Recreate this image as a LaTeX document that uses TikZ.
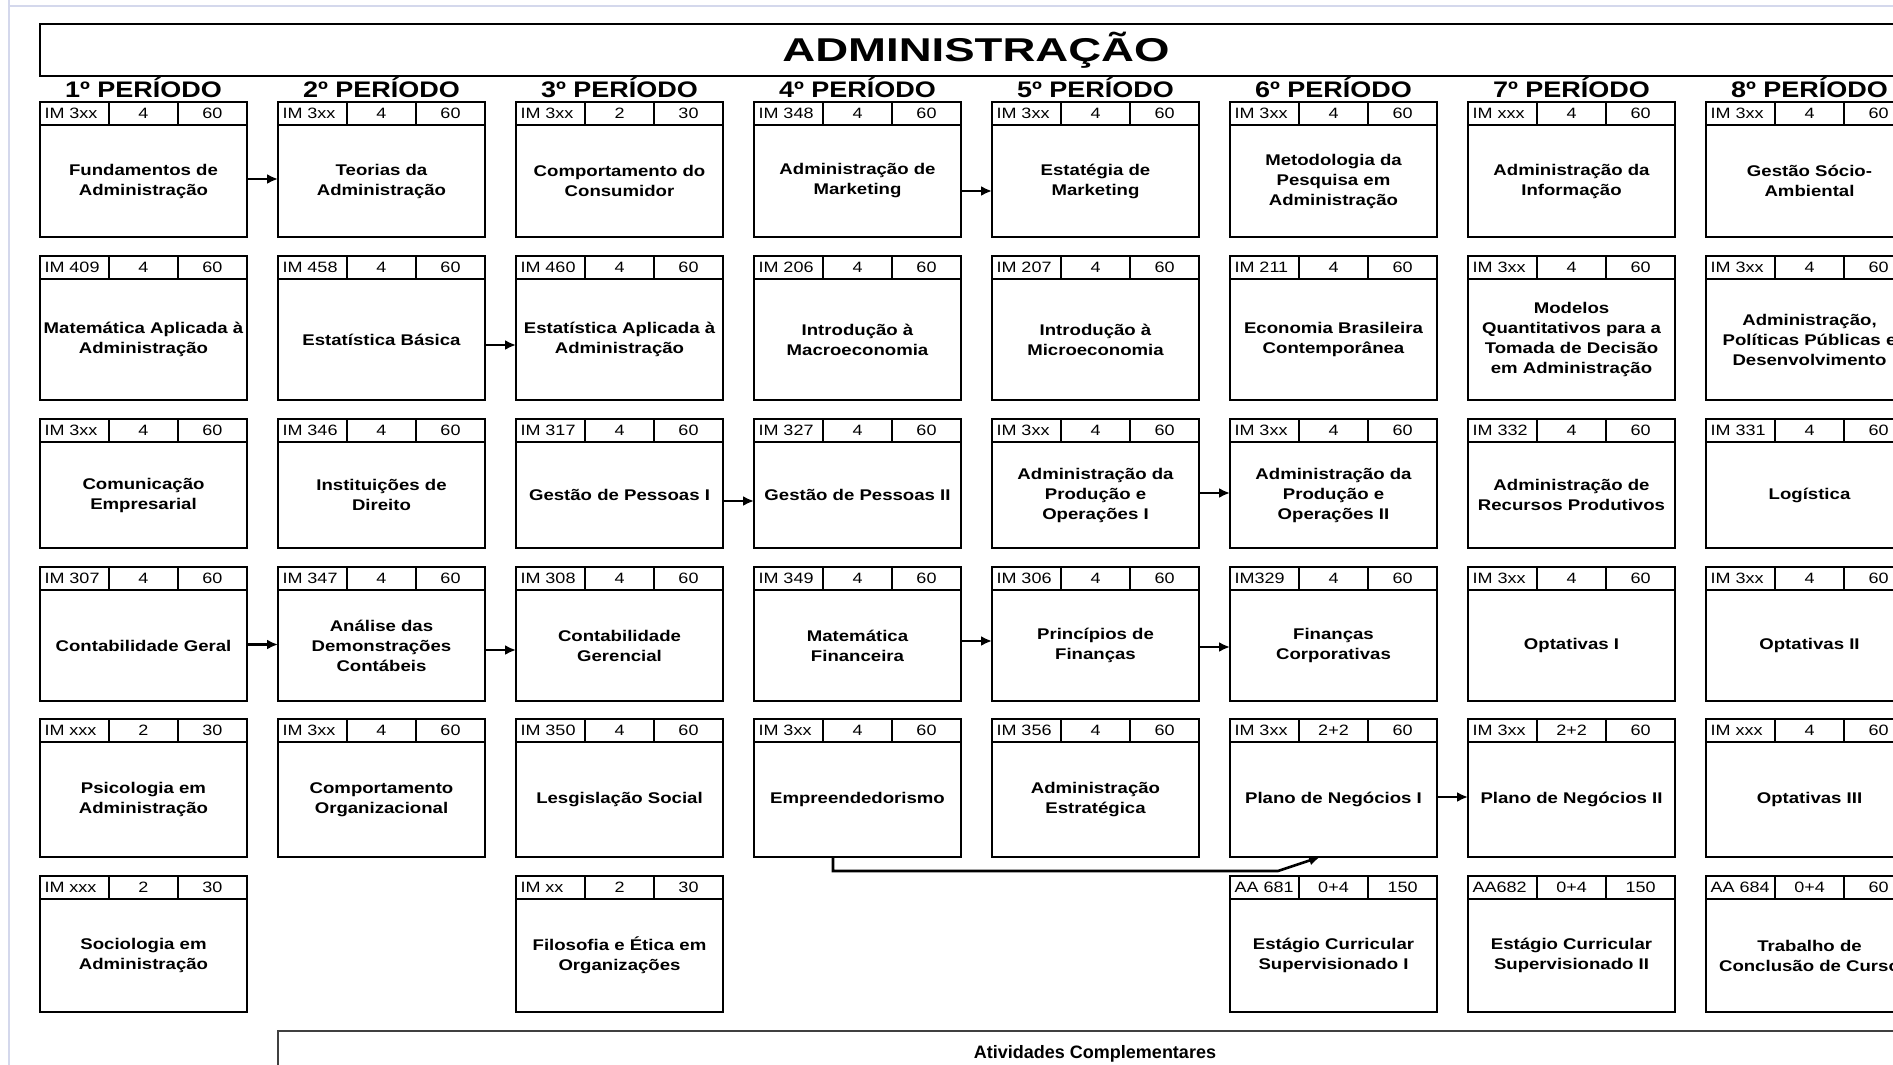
\documentclass[tikz,border=0pt]{standalone}
\usepackage{fontspec}
\setmainfont{Liberation Sans}
\newfontfamily\widefont[FakeStretch=1.2]{Liberation Sans}
\newfontfamily\titlefont[FakeStretch=1.38]{Liberation Sans}
\usepackage{tikz}
\usepackage{xcolor}
\definecolor{pageline}{RGB}{212,216,236}
\usetikzlibrary{arrows.meta,positioning}

\tikzset{
	cbox/.style={draw,line width=2.6pt,anchor=north west,minimum width=207pt,inner sep=0pt,outer sep=0pt},
	ccell/.style={draw,line width=1.6pt,anchor=north west,minimum width=69pt,minimum height=23pt,inner sep=0pt,outer sep=0pt,font=\widefont\fontsize{15}{15}\selectfont},
	ccode/.style={ccell,text width=60pt,inner xsep=4.5pt,align=left},
	ctext/.style={align=center,inner sep=0pt,font=\widefont\bfseries\fontsize{15.5}{20}\selectfont},
	per/.style={anchor=base,inner sep=0pt,font=\widefont\bfseries\fontsize{22.5}{22.5}\selectfont},
	arr/.style={-{Latex[length=11pt,width=10pt]},line width=2.6pt},
}

% one course: name, x, y (top), height, code, credits, hours, title
\newcommand{\disciplina}[8]{%
	\node[cbox,minimum height=#4pt] (#1) at (#2,#3) {};
	\node[ccode] (#1code) at (#1.north west) {#5};
	\node[ccell] (#1cr) at (#1code.north east) {#6};
	\node[ccell] (#1ch) at (#1cr.north east) {#7};
	\node[ctext] (#1txt) at ([yshift=-11.5pt]#1.center) {#8};
}

\begin{document}
\begin{tikzpicture}[x=1pt,y=-1pt]
	\useasboundingbox (0,0) rectangle (1893,1065);
	\clip (0,0) rectangle (1893,1065);
	
	\draw[pageline,line width=1.5pt](9,0)--(9,1065);
	\draw[pageline,line width=1.5pt](9,6)--(1893,6);
	
	\node[draw,line width=2.6pt,anchor=north west,minimum width=1900pt,minimum height=52pt,inner sep=0pt,outer sep=0pt] (titlebox) at (40,24) {};
	\node[anchor=base,inner sep=0pt,font=\titlefont\bfseries\fontsize{33}{33}\selectfont] (title) at (976,62) {ADMINISTRAÇÃO};
	
	\node[per] (p1) at (143.5,97) {1º PERÍODO};
	\node[per] (p2) at (381.5,97) {2º PERÍODO};
	\node[per] (p3) at (619.5,97) {3º PERÍODO};
	\node[per] (p4) at (857.5,97) {4º PERÍODO};
	\node[per] (p5) at (1095.5,97) {5º PERÍODO};
	\node[per] (p6) at (1333.5,97) {6º PERÍODO};
	\node[per] (p7) at (1571.5,97) {7º PERÍODO};
	\node[per] (p8) at (1809.5,97) {8º PERÍODO};
	
	\disciplina{r1c1}{40}{102}{135}{IM 3xx}{4}{60}{Fundamentos de\\Administração}
	\disciplina{r1c2}{278}{102}{135}{IM 3xx}{4}{60}{Teorias da\\Administração}
	\disciplina{r1c3}{516}{102}{135}{IM 3xx}{2}{30}{Comportamento do\\Consumidor}
	\disciplina{r1c4}{754}{102}{135}{IM 348}{4}{60}{Administração de\\Marketing}
	\disciplina{r1c5}{992}{102}{135}{IM 3xx}{4}{60}{Estatégia de\\Marketing}
	\disciplina{r1c6}{1230}{102}{135}{IM 3xx}{4}{60}{Metodologia da\\Pesquisa em\\Administração}
	\disciplina{r1c7}{1468}{102}{135}{IM xxx}{4}{60}{Administração da\\Informação}
	\disciplina{r1c8}{1706}{102}{135}{IM 3xx}{4}{60}{Gestão Sócio-\\Ambiental}
	
	\disciplina{r2c1}{40}{256}{144}{IM 409}{4}{60}{Matemática Aplicada à\\Administração}
	\disciplina{r2c2}{278}{256}{144}{IM 458}{4}{60}{Estatística Básica}
	\disciplina{r2c3}{516}{256}{144}{IM 460}{4}{60}{Estatística Aplicada à\\Administração}
	\disciplina{r2c4}{754}{256}{144}{IM 206}{4}{60}{Introdução à\\Macroeconomia}
	\disciplina{r2c5}{992}{256}{144}{IM 207}{4}{60}{Introdução à\\Microeconomia}
	\disciplina{r2c6}{1230}{256}{144}{IM 211}{4}{60}{Economia Brasileira\\Contemporânea}
	\disciplina{r2c7}{1468}{256}{144}{IM 3xx}{4}{60}{Modelos\\Quantitativos para a\\Tomada de Decisão\\em Administração}
	\disciplina{r2c8}{1706}{256}{144}{IM 3xx}{4}{60}{Administração,\\Políticas Públicas e\\Desenvolvimento}
	
	\disciplina{r3c1}{40}{419}{129}{IM 3xx}{4}{60}{Comunicação\\Empresarial}
	\disciplina{r3c2}{278}{419}{129}{IM 346}{4}{60}{Instituições de\\Direito}
	\disciplina{r3c3}{516}{419}{129}{IM 317}{4}{60}{Gestão de Pessoas I}
	\disciplina{r3c4}{754}{419}{129}{IM 327}{4}{60}{Gestão de Pessoas II}
	\disciplina{r3c5}{992}{419}{129}{IM 3xx}{4}{60}{Administração da\\Produção e\\Operações I}
	\disciplina{r3c6}{1230}{419}{129}{IM 3xx}{4}{60}{Administração da\\Produção e\\Operações II}
	\disciplina{r3c7}{1468}{419}{129}{IM 332}{4}{60}{Administração de\\Recursos Produtivos}
	\disciplina{r3c8}{1706}{419}{129}{IM 331}{4}{60}{Logística}
	
	\disciplina{r4c1}{40}{567}{134}{IM 307}{4}{60}{Contabilidade Geral}
	\disciplina{r4c2}{278}{567}{134}{IM 347}{4}{60}{Análise das\\Demonstrações\\Contábeis}
	\disciplina{r4c3}{516}{567}{134}{IM 308}{4}{60}{Contabilidade\\Gerencial}
	\disciplina{r4c4}{754}{567}{134}{IM 349}{4}{60}{Matemática\\Financeira}
	\disciplina{r4c5}{992}{567}{134}{IM 306}{4}{60}{Princípios de\\Finanças}
	\disciplina{r4c6}{1230}{567}{134}{IM329}{4}{60}{Finanças\\Corporativas}
	\disciplina{r4c7}{1468}{567}{134}{IM 3xx}{4}{60}{Optativas I}
	\disciplina{r4c8}{1706}{567}{134}{IM 3xx}{4}{60}{Optativas II}
	
	\disciplina{r5c1}{40}{719}{138}{IM xxx}{2}{30}{Psicologia em\\Administração}
	\disciplina{r5c2}{278}{719}{138}{IM 3xx}{4}{60}{Comportamento\\Organizacional}
	\disciplina{r5c3}{516}{719}{138}{IM 350}{4}{60}{Lesgislação Social}
	\disciplina{r5c4}{754}{719}{138}{IM 3xx}{4}{60}{Empreendedorismo}
	\disciplina{r5c5}{992}{719}{138}{IM 356}{4}{60}{Administração\\Estratégica}
	\disciplina{r5c6}{1230}{719}{138}{IM 3xx}{2+2}{60}{Plano de Negócios I}
	\disciplina{r5c7}{1468}{719}{138}{IM 3xx}{2+2}{60}{Plano de Negócios II}
	\disciplina{r5c8}{1706}{719}{138}{IM xxx}{4}{60}{Optativas III}
	
	\disciplina{r6c1}{40}{876}{136}{IM xxx}{2}{30}{Sociologia em\\Administração}
	\disciplina{r6c3}{516}{876}{136}{IM xx}{2}{30}{Filosofia e Ética em\\Organizações}
	\disciplina{r6c6}{1230}{876}{136}{AA 681}{0+4}{150}{Estágio Curricular\\Supervisionado I}
	\disciplina{r6c7}{1468}{876}{136}{AA682}{0+4}{150}{Estágio Curricular\\Supervisionado II}
	\disciplina{r6c8}{1706}{876}{136}{AA 684}{0+4}{60}{Trabalho de\\Conclusão de Curso}
	
	\node[draw=black!75,line width=2pt,anchor=north west,minimum width=1700pt,minimum height=80pt,inner sep=0pt,outer sep=0pt] (ativ) at (278,1031) {};
	\node[anchor=base,inner sep=0pt,font=\bfseries\fontsize{18}{18}\selectfont] (ativtxt) at (1095,1058) {Atividades Complementares};
	
	\draw[arr]([yshift=-9.5pt]r1c1.east)--([yshift=-9.5pt]r1c2.west);
	\draw[arr]([yshift=-21.5pt]r1c4.east)--([yshift=-21.5pt]r1c5.west);
	\draw[arr]([yshift=-17pt]r2c2.east)--([yshift=-17pt]r2c3.west);
	\draw[arr]([yshift=-17.5pt]r3c3.east)--([yshift=-17.5pt]r3c4.west);
	\draw[arr]([yshift=-9.5pt]r3c5.east)--([yshift=-9.5pt]r3c6.west);
	\draw[arr]([yshift=-10.5pt]r4c1.east)--([yshift=-10.5pt]r4c2.west);
	\draw[arr]([yshift=-16pt]r4c2.east)--([yshift=-16pt]r4c3.west);
	\draw[arr]([yshift=-7pt]r4c4.east)--([yshift=-7pt]r4c5.west);
	\draw[arr]([yshift=-13pt]r4c5.east)--([yshift=-13pt]r4c6.west);
	\draw[arr]([yshift=-9pt]r5c6.east)--([yshift=-9pt]r5c7.west);
	\draw[arr]([xshift=-24.5pt]r5c4.south)--++(0,14)--++(445,0)--([xshift=-13.5pt]r5c6.south);
\end{tikzpicture}
\end{document}
